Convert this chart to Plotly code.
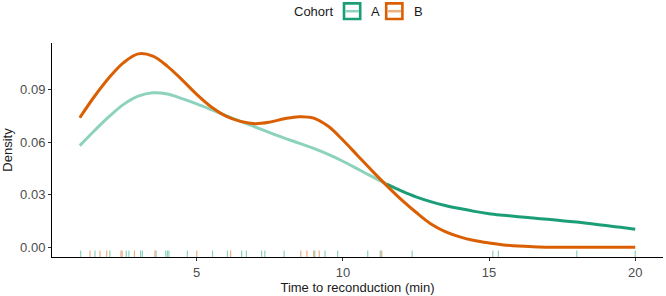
import plotly.graph_objects as go

# ---- data ----
grid_x = [1, 1.5, 2, 2.5, 3, 3.5, 4, 4.5, 5, 5.5, 6, 6.5, 7, 7.5, 8, 8.5, 9, 9.5, 10,
          10.5, 11, 11.5, 12, 12.5, 13, 13.5, 14, 14.5, 15, 15.5, 16, 16.5, 17, 17.5,
          18, 18.5, 19, 19.5, 20]
density_a = [0.0580, 0.0665, 0.0745, 0.0815, 0.0862, 0.0881, 0.0874, 0.0848, 0.0818, 0.0785,
             0.0751, 0.0718, 0.0686, 0.0654, 0.0623, 0.0594, 0.0564, 0.0530, 0.0491, 0.0447,
             0.0403, 0.0360, 0.0322, 0.0288, 0.0261, 0.0239, 0.0221, 0.0205, 0.0192, 0.0183,
             0.0175, 0.0167, 0.0160, 0.0152, 0.0144, 0.0134, 0.0124, 0.0114, 0.0103]
density_b = [0.0739, 0.0860, 0.0967, 0.1053, 0.1103, 0.1090, 0.1032, 0.0955, 0.0872, 0.0800,
             0.0748, 0.0718, 0.0705, 0.0714, 0.0733, 0.0745, 0.0737, 0.0690, 0.0612, 0.0524,
             0.0436, 0.0352, 0.0272, 0.0200, 0.0135, 0.0090, 0.0060, 0.0039, 0.0025, 0.0014,
             0.0007, 0.0003, 0.0001, 0.0, 0.0, 0.0, 0.0, 0.0, 0.0]
split_x = 11.5  # where cohort A's curve changes from light to dark

rug_a = [1.03, 1.52, 2.03, 2.59, 2.68, 3.08, 3.14, 3.61, 3.94, 4.0, 4.05, 4.68, 5.54, 6.05,
         6.54, 6.7, 7.22, 7.33, 7.99, 9.04, 9.39, 9.82, 10.85, 11.28, 12.37, 15.13, 15.32,
         18.0, 20.0]
rug_b = [1.35, 1.69, 1.92, 2.41, 2.45, 2.87, 3.57, 5.0, 6.16, 8.56, 8.77, 9.0, 9.19, 11.33]

cohorts = ["A", "B"]
x_ticks = [5, 10, 15, 20]
y_ticks = [0.0, 0.03, 0.06, 0.09]

GREEN = "#1B9E77"
GREEN_LIGHT = "#8DD2BD"
ORANGE = "#D95F02"
ORANGE_LIGHT = "#ECAF80"
FONT = "Liberation Sans, Arial, sans-serif"

W, H = 666, 296
ML, MR, MT, MB = 52, 3, 43, 37
PW, PH = W - ML - MR, H - MT - MB


def px(xp):
    return (xp - ML) / PW


def py(yp):
    return (H - MB - yp) / PH


fig = go.Figure()

ax_light = [x for x in grid_x if x <= split_x]
ay_light = [y for x, y in zip(grid_x, density_a) if x <= split_x]
ax_dark = [x for x in grid_x if x >= split_x]
ay_dark = [y for x, y in zip(grid_x, density_a) if x >= split_x]

fig.add_trace(go.Scatter(x=ax_light, y=ay_light, mode="lines",
                         line=dict(color=GREEN_LIGHT, width=3, shape="spline", smoothing=1.0),
                         showlegend=False, hoverinfo="skip"))
fig.add_trace(go.Scatter(x=ax_dark, y=ay_dark, mode="lines",
                         line=dict(color=GREEN, width=3, shape="spline", smoothing=1.0),
                         showlegend=False, hoverinfo="skip"))
fig.add_trace(go.Scatter(x=grid_x, y=density_b, mode="lines",
                         line=dict(color=ORANGE, width=3, shape="spline", smoothing=1.0),
                         showlegend=False, hoverinfo="skip"))

shapes = []
for v in rug_a:
    shapes.append(dict(type="line", xref="x", yref="y domain", x0=v, x1=v, y0=0, y1=0.03,
                       line=dict(color=GREEN_LIGHT, width=1.2)))
for v in rug_b:
    shapes.append(dict(type="line", xref="x", yref="y domain", x0=v, x1=v, y0=0, y1=0.03,
                       line=dict(color=ORANGE_LIGHT, width=1.2)))

# manual legend (ggplot-style keys)
annotations = [dict(text="Cohort", xref="paper", yref="paper", x=px(335), y=py(11.7),
                    xanchor="right", yanchor="middle", showarrow=False,
                    font=dict(size=13, color="#1a1a1a"))]
key_left = [344, 386.2]
for name, kx, dark, light in zip(cohorts, key_left, [GREEN, ORANGE], [GREEN_LIGHT, ORANGE_LIGHT]):
    shapes.append(dict(type="rect", xref="paper", yref="paper", x0=px(kx), x1=px(kx + 16.2),
                       y0=py(18.7), y1=py(3), line=dict(color=dark, width=2.6), fillcolor="white"))
    shapes.append(dict(type="line", xref="paper", yref="paper", x0=px(kx + 1.3), x1=px(kx + 14.9),
                       y0=py(10.9), y1=py(10.9), line=dict(color=light, width=2.5)))
    annotations.append(dict(text=name, xref="paper", yref="paper", x=px(kx + 25.5), y=py(11.7),
                            xanchor="left", yanchor="middle", showarrow=False,
                            font=dict(size=13, color="#1a1a1a")))

fig.update_layout(
    width=W, height=H,
    margin=dict(l=ML, r=MR, t=MT, b=MB),
    paper_bgcolor="white", plot_bgcolor="white",
    font=dict(family=FONT, size=13, color="#333333"),
    shapes=shapes, annotations=annotations, showlegend=False,
    xaxis=dict(range=[0.05, 20.95], tickvals=x_ticks, ticks="outside", ticklen=3, tickcolor="#333",
               showline=True, linecolor="black", linewidth=1, showgrid=False, zeroline=False,
               tickfont=dict(size=13, color="#4d4d4d"),
               title=dict(text="Time to reconduction (min)", font=dict(size=13, color="#1a1a1a"), standoff=4)),
    yaxis=dict(range=[-0.0055, 0.1165], tickvals=y_ticks, tickformat=".2f", ticks="outside", ticklen=3,
               tickcolor="#333", showline=True, linecolor="black", linewidth=1, showgrid=False, zeroline=False,
               tickfont=dict(size=13, color="#4d4d4d"),
               title=dict(text="Density", font=dict(size=13, color="#1a1a1a"), standoff=4)),
)

fig.write_html("out.html")
